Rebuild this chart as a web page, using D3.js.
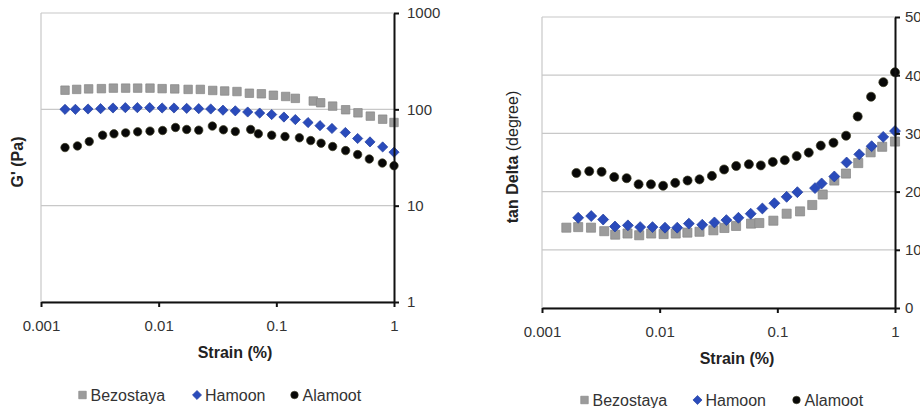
<!DOCTYPE html>
<html lang="en">
<head>
    <meta charset="UTF-8">
    <title>G' and tan Delta vs strain</title>
    <script src="https://d3js.org/d3.v7.min.js"></script>
    <style>
        body {
            margin: 0;
            background: #fff;
            font-family: "Liberation Sans", Arial, sans-serif;
        }
        svg {
            display: block;
        }
        .tick text {
            font-size: 15px;
            fill: #333;
        }
        .axis-title {
            font-size: 16px;
            font-weight: bold;
            fill: #222;
        }
        .legend text {
            font-size: 16px;
            fill: #333;
        }
    </style>
</head>
<body>
    <svg width="920" height="408"></svg>

    <script>
        const width = 920;
        const height = 408;

        const seriesNames = ["Bezostaya", "Hamoon", "Alamoot"];

        // left panel: storage modulus G' (Pa)
        const gpStrainBez = [0.0016, 0.00201, 0.00254, 0.00326, 0.00412, 0.00524, 0.00663, 0.00844, 0.0107, 0.0137, 0.0178, 0.0226, 0.0288, 0.0364, 0.0463, 0.059, 0.0746, 0.0944, 0.12, 0.145, 0.206, 0.238, 0.301, 0.388, 0.494, 0.629, 0.801, 1.0];
        const gpBez = [158, 161, 163, 164, 166, 166, 166, 166, 164, 163, 161, 161, 157, 155, 153, 147, 145, 140, 136, 130, 122, 117, 108, 99, 92, 85, 79, 73];

        const gpStrainHam = [0.0016, 0.00196, 0.00251, 0.00321, 0.00409, 0.00521, 0.00659, 0.00839, 0.0107, 0.0135, 0.0173, 0.0219, 0.0277, 0.0352, 0.0448, 0.0571, 0.0722, 0.0913, 0.116, 0.145, 0.186, 0.235, 0.297, 0.386, 0.491, 0.625, 0.801, 1.0];
        const gpHam = [100, 100, 100.8, 101.6, 103.3, 104.1, 104.1, 104.1, 103.3, 103.3, 102.4, 101.6, 100.8, 98, 96.5, 93.8, 91.5, 88.3, 83.2, 78.3, 72.9, 67.7, 63.3, 57.5, 49.8, 45.9, 40.7, 35.9];

        const gpStrainAla = [0.0016, 0.00204, 0.00257, 0.00334, 0.00417, 0.00524, 0.00663, 0.00844, 0.0108, 0.0139, 0.0173, 0.0219, 0.0286, 0.0355, 0.0448, 0.0605, 0.0703, 0.0913, 0.1185, 0.157, 0.196, 0.24, 0.301, 0.388, 0.491, 0.617, 0.796, 1.0];
        const gpAla = [40.1, 41.7, 46.3, 53.9, 55.7, 57, 58.4, 59.4, 60.3, 64.8, 61.8, 60.8, 67, 61.3, 58.9, 61.8, 55.7, 53.9, 52.2, 50.6, 47.4, 44.5, 41.1, 37.3, 33.9, 30.5, 27.7, 26];

        // right panel: tan Delta (degree)
        const tdStrainBez = [0.00161, 0.00203, 0.00261, 0.00338, 0.00419, 0.00533, 0.0067, 0.00847, 0.0108, 0.0137, 0.0172, 0.0218, 0.0286, 0.0355, 0.0446, 0.0598, 0.0703, 0.0925, 0.12, 0.156, 0.198, 0.243, 0.305, 0.383, 0.487, 0.621, 0.778, 1.0];
        const tdBez = [13.8, 13.9, 13.8, 13.2, 12.6, 12.8, 12.5, 12.8, 12.7, 12.8, 12.95, 13.1, 13.35, 13.75, 14.1, 14.5, 14.6, 15.0, 16.2, 16.6, 17.7, 19.5, 21.9, 23.1, 24.9, 26.75, 27.7, 28.6];

        const tdStrainHam = [0.00203, 0.00262, 0.00331, 0.00417, 0.00537, 0.00683, 0.00869, 0.0111, 0.0141, 0.0177, 0.023, 0.0292, 0.0369, 0.0467, 0.0594, 0.0746, 0.0944, 0.12, 0.148, 0.209, 0.238, 0.305, 0.388, 0.497, 0.633, 0.794, 1.0];
        const tdHam = [15.5, 15.8, 15.2, 14.0, 14.2, 13.9, 13.9, 13.8, 13.8, 14.5, 14.3, 14.7, 15.1, 15.5, 16.2, 17.1, 18.0, 19.1, 19.9, 20.6, 21.4, 22.6, 25.0, 26.4, 27.8, 29.4, 30.4];

        const tdStrainAla = [0.00196, 0.00252, 0.00321, 0.00411, 0.00524, 0.00662, 0.00843, 0.0107, 0.01356, 0.01726, 0.0218, 0.0278, 0.0353, 0.0447, 0.0573, 0.0724, 0.0915, 0.1157, 0.146, 0.185, 0.234, 0.3, 0.384, 0.482, 0.626, 0.796, 1.0];
        const tdAla = [23.2, 23.5, 23.4, 22.5, 22.3, 21.25, 21.25, 21.0, 21.5, 21.9, 22.1, 22.7, 23.8, 24.4, 24.7, 24.5, 25.1, 25.4, 26.1, 26.7, 27.9, 28.4, 29.6, 32.9, 36.3, 38.8, 40.5];

        const xTicks = [0.001, 0.01, 0.1, 1];
        const gpTicks = [1, 10, 100, 1000];
        const tdTicks = [0, 10, 20, 30, 40, 50];

        const zip = (xs, ys) => xs.map((x, i) => ({ x: x, y: ys[i] }));

        const markers = {
            Bezostaya: { type: d3.symbolSquare, size: 72, rotate: 0, fill: "#9b9b9b", stroke: "#858585" },
            Hamoon: { type: d3.symbolSquare, size: 52, rotate: 45, fill: "#2a4bbb", stroke: "#23409f" },
            Alamoot: { type: d3.symbolCircle, size: 56, rotate: 0, fill: "#080808", stroke: "#3c3c24" }
        };

        const svg = d3.select("svg");

        function drawPanel(p) {
            const x = d3.scaleLog().domain([0.001, 1]).range([p.left, p.right]);
            const y = p.log
                ? d3.scaleLog().domain([1, 1000]).range([p.bottom, p.top])
                : d3.scaleLinear().domain([0, 50]).range([p.bottom, p.top]);

            const g = svg.append("g");

            // gridlines
            g.append("g")
                .selectAll("line")
                .data(p.yTicks)
                .join("line")
                .attr("x1", p.left)
                .attr("x2", p.right)
                .attr("y1", d => y(d))
                .attr("y2", d => y(d))
                .attr("stroke", "#c8c8c8")
                .attr("stroke-width", 1.2);

            // left border of plot area
            g.append("line")
                .attr("x1", p.left).attr("x2", p.left)
                .attr("y1", p.top).attr("y2", p.bottom)
                .attr("stroke", "#c8c8c8")
                .attr("stroke-width", 1.2);

            // points
            p.series.forEach(s => {
                const m = markers[s.name];
                const sym = d3.symbol().type(m.type).size(m.size * p.scale);
                g.append("g")
                    .selectAll("path")
                    .data(s.data)
                    .join("path")
                    .attr("d", sym)
                    .attr("transform", d => `translate(${x(d.x)},${y(d.y)}) rotate(${m.rotate})`)
                    .attr("fill", m.fill)
                    .attr("stroke", m.stroke)
                    .attr("stroke-width", 0.7);
            });

            // axes
            const xAxis = g.append("g")
                .attr("transform", `translate(0,${p.bottom})`)
                .call(d3.axisBottom(x).tickValues(xTicks).tickFormat(d3.format("")).tickSize(5).tickSizeOuter(0).tickPadding(13.5));

            const yAxis = g.append("g")
                .attr("transform", `translate(${p.right},0)`)
                .call(d3.axisRight(y).tickValues(p.yTicks).tickFormat(d3.format("")).tickSize(5).tickSizeOuter(0).tickPadding(p.yPad));

            [xAxis, yAxis].forEach(a => {
                a.attr("font-family", null).attr("font-size", null);
                a.select(".domain").attr("stroke", "#111").attr("stroke-width", 2);
                a.selectAll(".tick line").attr("stroke", "#111").attr("stroke-width", 2);
            });

            // x title
            g.append("text")
                .attr("class", "axis-title")
                .attr("x", p.xTitleX)
                .attr("y", p.xTitleY)
                .attr("text-anchor", "middle")
                .text("Strain (%)");

            // y title
            const yt = g.append("text")
                .attr("class", "axis-title")
                .attr("transform", `translate(${p.yTitleX},${p.yTitleY}) rotate(-90)`)
                .attr("text-anchor", "middle")
                .attr("dy", "0.35em");
            p.yTitle.forEach(part => {
                yt.append("tspan").attr("font-weight", part.bold ? "bold" : "normal").text(part.t);
            });

            // legend
            const lg = g.append("g").attr("class", "legend");
            seriesNames.forEach((name, i) => {
                const m = markers[name];
                const lx = p.legendX[i];
                lg.append("path")
                    .attr("d", d3.symbol().type(m.type).size(m.size * 0.8))
                    .attr("transform", `translate(${lx},${p.legendY}) rotate(${m.rotate})`)
                    .attr("fill", m.fill)
                    .attr("stroke", m.stroke)
                    .attr("stroke-width", 0.6);
                lg.append("text")
                    .attr("x", lx + 8)
                    .attr("y", p.legendY)
                    .attr("dy", "0.35em")
                    .text(name);
            });
        }

        drawPanel({
            left: 41, right: 394, top: 13, bottom: 302,
            log: true,
            yTicks: gpTicks,
            yPad: 8,
            scale: 1,
            series: [
                { name: "Bezostaya", data: zip(gpStrainBez, gpBez) },
                { name: "Hamoon", data: zip(gpStrainHam, gpHam) },
                { name: "Alamoot", data: zip(gpStrainAla, gpAla) }
            ],
            xTitleX: 235, xTitleY: 358,
            yTitleX: 17, yTitleY: 162,
            yTitle: [{ t: "G' (Pa)", bold: true }],
            legendX: [82.5, 197, 294.5], legendY: 395
        });

        drawPanel({
            left: 542, right: 895, top: 17, bottom: 308,
            log: false,
            yTicks: tdTicks,
            yPad: 5,
            scale: 1.15,
            series: [
                { name: "Bezostaya", data: zip(tdStrainBez, tdBez) },
                { name: "Hamoon", data: zip(tdStrainHam, tdHam) },
                { name: "Alamoot", data: zip(tdStrainAla, tdAla) }
            ],
            xTitleX: 737, xTitleY: 364,
            yTitleX: 512, yTitleY: 157,
            yTitle: [{ t: "tan Delta ", bold: true }, { t: "(degree)", bold: false }],
            legendX: [584.5, 697.5, 796.5], legendY: 400
        });
    </script>
</body>
</html>
